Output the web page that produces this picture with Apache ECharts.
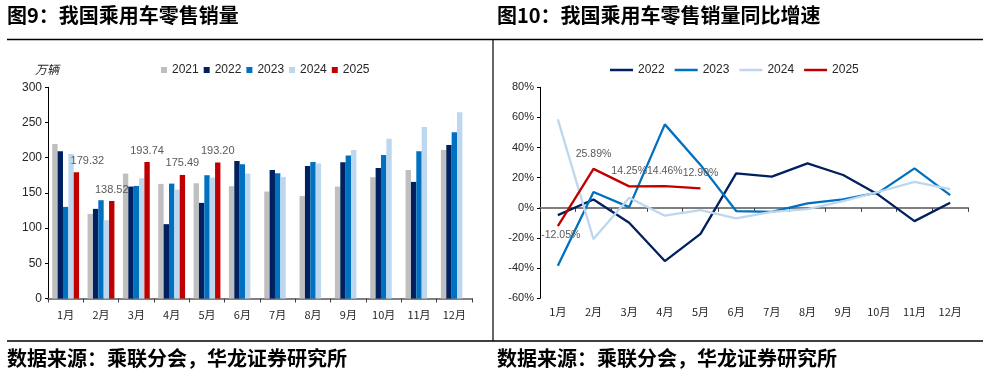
<!DOCTYPE html>
<html>
<head>
<meta charset="utf-8">
<script src="https://cdn.jsdelivr.net/npm/echarts@6/dist/echarts.min.js"></script>
<style>
html,body{margin:0;padding:0;background:#fff;}
#c{width:983px;height:375px;}
</style>
</head>
<body>
<div id="c"></div>
<script>
// ---------- data ----------
const months = ['1月','2月','3月','4月','5月','6月','7月','8月','9月','10月','11月','12月'];
const years = ['2021','2022','2023','2024','2025'];
const sales2021 = [219.5, 120.2, 177.4, 162.8, 163.7, 159.5, 151.9, 145.7, 159.0, 172.3, 182.6, 211.0];
const sales2022 = [209.1, 127.3, 159.0, 105.6, 135.8, 195.4, 182.6, 188.3, 193.5, 185.5, 165.6, 218.1];
const sales2023 = [130.1, 139.6, 159.9, 163.2, 175.1, 190.7, 177.9, 194.0, 203.0, 203.9, 209.1, 236.1];
const sales2024 = [205.3, 111.2, 170.8, 154.7, 171.8, 177.4, 172.7, 191.6, 211.0, 227.0, 243.6, 264.5];
const sales2025 = [179.32, 138.52, 193.74, 175.49, 193.20];

const yoyYears = ['2022','2023','2024','2025'];
const yoy2022 = [-4.8, 5.6, -9.9, -35.3, -17.2, 22.9, 20.7, 29.5, 21.8, 8.5, -8.8, 3.4];
const yoy2023 = [-38.4, 10.5, 0.5, 55.4, 28.5, -2.1, -2.6, 3.0, 5.6, 10.3, 26.2, 8.5];
const yoy2024 = [58.7, -20.7, 6.7, -5.2, -1.5, -7.0, -2.6, -0.8, 4.5, 10.7, 17.3, 12.5];
const yoy2025 = [-12.05, 25.89, 14.25, 14.46, 12.90];

const leftTicks = {min: 0, max: 300, interval: 50};
const rightTicks = {min: -60, max: 80, interval: 20};

const title1 = '图9：我国乘用车零售销量';
const title2 = '图10：我国乘用车零售销量同比增速';
const source = '数据来源：乘联分会，华龙证券研究所';
const unit = '万辆';

// ---------- styles ----------
const colors = {
  '2021': '#BFBFBF', '2022': '#002060', '2023': '#0070C0', '2024': '#BDD7EE', '2025': '#C00000'
};
const numFont = 'Liberation Sans, Arial, sans-serif';
const cjkFont = '"Noto Sans CJK SC", sans-serif';
const txt = '#262626';

const chart = echarts.init(document.getElementById('c'), null, {renderer: 'canvas'});

const salesByYear = {'2021': sales2021, '2022': sales2022, '2023': sales2023, '2024': sales2024, '2025': sales2025};
const yoyByYear = {'2022': yoy2022, '2023': yoy2023, '2024': yoy2024, '2025': yoy2025};

const barSeries = years.map(y => {
  const s = {
    name: y, type: 'bar', xAxisIndex: 0, yAxisIndex: 0,
    barGap: '0%', barCategoryGap: '24%',
    itemStyle: {color: colors[y]},
    data: salesByYear[y].slice(),
    silent: true
  };
  if (y === '2025') {
    s.data = sales2025.map((v, i) => i === 0 ? {value: v, label: {offset: [11, 0]}} : v);
    s.label = {
      show: true, position: 'top', distance: 6,
      color: '#595959', fontSize: 11, fontFamily: numFont,
      formatter: p => p.value.toFixed(2)
    };
  }
  return s;
});

const lineSeries = yoyYears.map(y => {
  const s = {
    name: y, type: 'line', xAxisIndex: 2, yAxisIndex: 1,
    symbol: 'none', showSymbol: false,
    lineStyle: {color: colors[y], width: 2.3},
    itemStyle: {color: colors[y]},
    data: yoyByYear[y], silent: true, z: 3
  };
  if (y === '2025') {
    s.z = 4;
    s.symbol = 'circle';
    s.symbolSize = 1;
    s.showSymbol = true;
    s.itemStyle = {color: 'rgba(0,0,0,0)', borderWidth: 0};
    s.data = yoy2025.map((v, i) => i === 0 ? {value: v, label: {position: 'bottom', distance: 3, offset: [3, 0]}} : v);
    s.label = {
      show: true, position: 'top', distance: 9,
      color: '#595959', fontSize: 10.5, fontFamily: numFont,
      formatter: p => p.value.toFixed(2) + '%'
    };
  }
  return s;
});

const option = {
  animation: false,
  backgroundColor: '#ffffff',
  textStyle: {fontFamily: numFont},
  grid: [
    {left: 48, right: 511, top: 87.3, bottom: 76.5, containLabel: false},
    {left: 540, right: 15, top: 87.3, bottom: 76.7, containLabel: false}
  ],
  legend: [
    {
      data: years, left: 156, top: 59, itemWidth: 6, itemHeight: 6, itemGap: 5,
      icon: 'rect', textStyle: {fontSize: 12, color: txt, fontFamily: numFont}, selectedMode: false
    },
    {
      data: yoyYears.map(y => ({name: y, itemStyle: {color: colors[y], opacity: 1}})),
      left: 605, top: 59, itemWidth: 23, itemHeight: 2.5, itemGap: 10,
      icon: 'rect', textStyle: {fontSize: 12, color: txt, fontFamily: numFont}, selectedMode: false
    }
  ],
  xAxis: [
    {
      type: 'category', gridIndex: 0, data: months, boundaryGap: true,
      axisLine: {show: true, lineStyle: {color: '#808080', width: 2}},
      axisTick: {show: true, length: 4, lineStyle: {color: '#404040'}},
      axisLabel: {color: txt, fontSize: 11, margin: 11, fontFamily: cjkFont}
    },
    {
      type: 'category', gridIndex: 1, data: months, boundaryGap: true, position: 'bottom',
      axisLine: {show: false, onZero: false},
      axisTick: {show: false},
      axisLabel: {color: txt, fontSize: 11, margin: 8, fontFamily: cjkFont}
    },
    {
      type: 'category', gridIndex: 1, data: months, boundaryGap: true, position: 'bottom',
      axisLine: {show: true, onZero: true, lineStyle: {color: '#808080', width: 2}},
      axisTick: {show: true, length: 4, lineStyle: {color: '#404040'}},
      axisLabel: {show: false}
    }
  ],
  yAxis: [
    {
      type: 'value', gridIndex: 0, min: leftTicks.min, max: leftTicks.max, interval: leftTicks.interval,
      splitLine: {show: false},
      axisLine: {show: true, lineStyle: {color: '#000', width: 1}},
      axisTick: {show: true, length: 3, lineStyle: {color: '#000'}},
      axisLabel: {color: txt, fontSize: 12, margin: 6, fontFamily: numFont}
    },
    {
      type: 'value', gridIndex: 1, min: rightTicks.min, max: rightTicks.max, interval: rightTicks.interval,
      splitLine: {show: false},
      axisLine: {show: true, lineStyle: {color: '#000', width: 1}},
      axisTick: {show: true, length: 3, lineStyle: {color: '#000'}},
      axisLabel: {color: txt, fontSize: 11, margin: 6, fontFamily: numFont, formatter: '{value}%'}
    }
  ],
  graphic: [
    {type: 'text', left: 7, top: 5, style: {text: title1, font: 'bold 20px ' + cjkFont, fill: '#000'}},
    {type: 'text', left: 497, top: 5, style: {text: title2, font: 'bold 20px ' + cjkFont, fill: '#000'}},
    {type: 'line', shape: {x1: 7, y1: 39.5, x2: 983, y2: 39.5}, style: {stroke: '#000', lineWidth: 1.5}},
    {type: 'line', shape: {x1: 493, y1: 39.5, x2: 493, y2: 341}, style: {stroke: '#000', lineWidth: 1.2}},
    {type: 'line', shape: {x1: 7, y1: 341, x2: 983, y2: 341}, style: {stroke: '#000', lineWidth: 1.5}},
    {type: 'text', left: 7, top: 348, style: {text: source, font: 'bold 20px ' + cjkFont, fill: '#000'}},
    {type: 'text', left: 497, top: 348, style: {text: source, font: 'bold 20px ' + cjkFont, fill: '#000'}},
    {type: 'text', left: 35, top: 63, style: {text: unit, font: 'italic 12px ' + cjkFont, fill: txt}}
  ],
  series: barSeries.concat(lineSeries)
};

chart.setOption(option);
</script>
</body>
</html>
